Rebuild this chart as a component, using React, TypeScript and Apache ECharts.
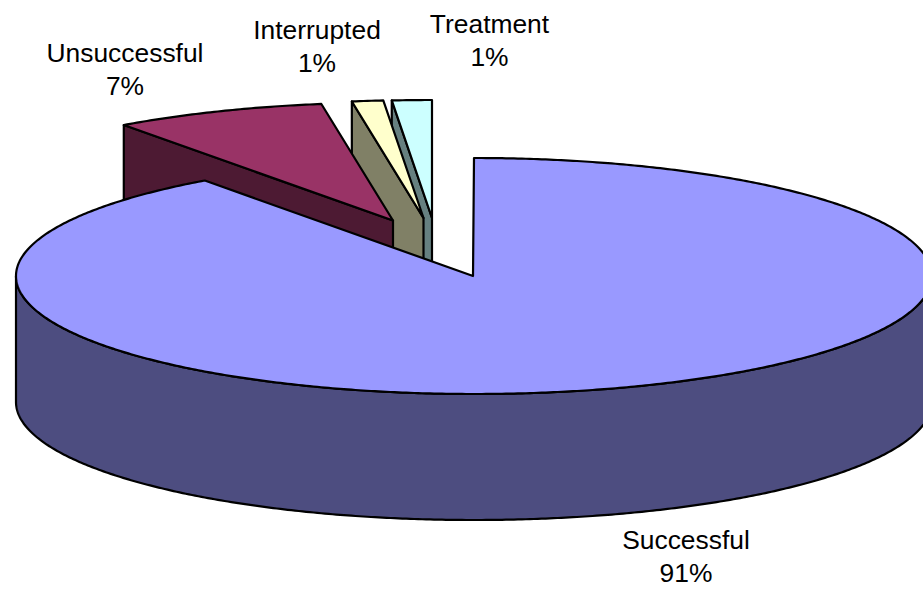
import React, { useEffect, useRef } from "react";
import * as echarts from "echarts";

const categories = ["Successful", "Unsuccessful", "Interrupted", "Treatment"];
const percentLabels = ["91%", "7%", "1%", "1%"];
// Share of the circle each slice occupies
const sliceShares = [90, 7.5, 1.1, 1.4];
const topColors = ["#9999FF", "#993366", "#FFFFCC", "#CCFFFF"];
const wallColors = ["#4D4D80", "#4D1A33", "#808066", "#668080"];
const apexX = [473, 393, 423.5, 432];
const apexY = [276, 220.5, 218, 218];
const labelX = [686, 125, 317, 489.5];
const labelY = [556, 69, 46, 40];

const RX = 458;
const RY = 118;
const DEPTH = 126;
const DEG = Math.PI / 180;

const total = sliceShares.reduce((a, b) => a + b, 0);
const startAngles: number[] = [];
sliceShares.reduce((acc, v, i) => {
  startAngles[i] = acc;
  return acc + (v / total) * 360;
}, 0);

function arc(cx: number, cy: number, from: number, to: number, dy = 0) {
  const pts: number[][] = [];
  const n = Math.max(2, Math.ceil(Math.abs(to - from) * 2));
  for (let k = 0; k <= n; k++) {
    const t = (from + ((to - from) * k) / n) * DEG;
    pts.push([cx + RX * Math.sin(t), cy - RY * Math.cos(t) + dy]);
  }
  return pts;
}

const line = { stroke: "#000", lineWidth: 2.2, lineJoin: "round" as const };

function renderSlice(_params: any, api: any) {
  const i = api.value(0) as number;
  const share = api.value(1) as number;
  const from = startAngles[i];
  const to = from + (share / total) * 360;
  const cx = apexX[i];
  const cy = apexY[i];
  // anchor the ellipse so the rim stays centred on the slice's own apex
  const ex = i === 0 ? cx + 1 : cx;
  const children: any[] = [];
  const visibleFront = Math.max(from, 90);
  const frontEnd = Math.min(to, 270);
  if (frontEnd > visibleFront) {
    const top = arc(ex, cy, visibleFront, frontEnd);
    const bottom = arc(ex, cy, visibleFront, frontEnd, DEPTH).reverse();
    children.push({
      type: "polygon",
      shape: { points: [...top, ...bottom] },
      style: { fill: wallColors[i], ...line },
    });
  }
  if (from > 180) {
    const p = arc(ex, cy, from, from)[0];
    children.push({
      type: "polygon",
      shape: {
        points: [p, [cx, cy], [cx, cy + DEPTH], [p[0], p[1] + DEPTH]],
      },
      style: { fill: wallColors[i], ...line },
    });
  }
  children.push({
    type: "polygon",
    shape: { points: [[cx, cy], ...arc(ex, cy, from, to)] },
    style: { fill: topColors[i], ...line },
  });
  return { type: "group", children };
}

function renderLabel(_params: any, api: any) {
  const i = api.value(0) as number;
  return {
    type: "text",
    style: {
      text: `${categories[i]}\n${percentLabels[i]}`,
      x: labelX[i],
      y: labelY[i],
      textAlign: "center",
      textVerticalAlign: "middle",
      fill: "#000",
      font: '26.4px "Liberation Sans", Arial, sans-serif',
      lineHeight: 33,
    },
  };
}

export default function App() {
  const ref = useRef<HTMLDivElement>(null);
  useEffect(() => {
    if (!ref.current) return;
    const chart = echarts.init(ref.current, undefined, { renderer: "svg" });
    // Drawn back to front: the last slice of the clockwise order sits furthest behind
    const drawOrder = categories.map((_, i) => categories.length - 1 - i);
    chart.setOption({
      animation: false,
      backgroundColor: "#fff",
      series: [
        {
          type: "custom",
          coordinateSystem: "none",
          silent: true,
          renderItem: renderSlice,
          data: drawOrder.map((i) => [i, sliceShares[i]]),
        },
        {
          type: "custom",
          coordinateSystem: "none",
          silent: true,
          renderItem: renderLabel,
          data: categories.map((_, i) => [i]),
        },
      ],
    });
    return () => chart.dispose();
  }, []);
  return (
    <div
      ref={ref}
      style={{ position: "fixed", left: 0, top: 0, width: 923, height: 590 }}
    />
  );
}
